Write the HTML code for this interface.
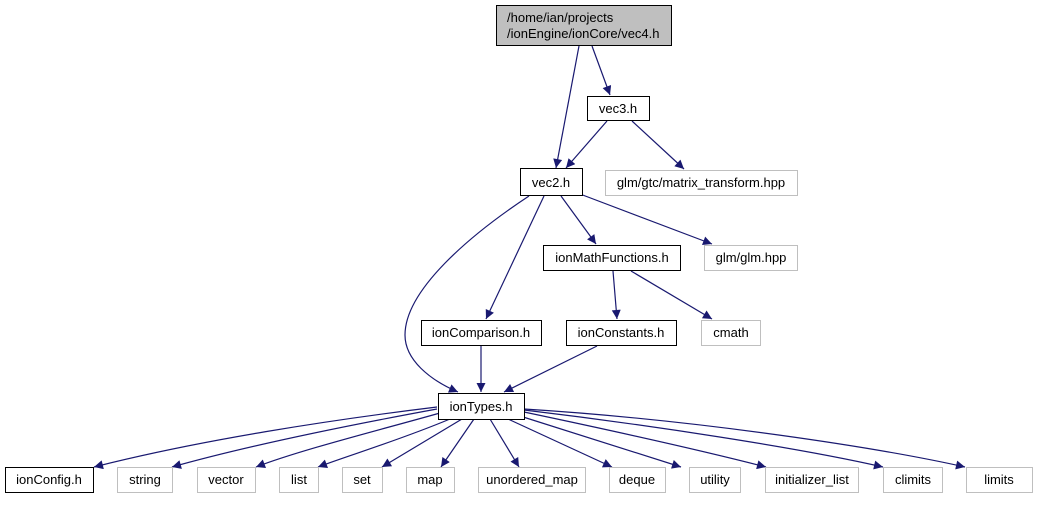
<!DOCTYPE html>
<html><head><style>
body{margin:0;background:#fff;width:1037px;height:500px;overflow:hidden}
svg text{font-family:"Liberation Sans",sans-serif;font-size:13px;fill:#000}
</style></head><body>
<svg width="1037" height="500" xmlns="http://www.w3.org/2000/svg">
<defs><marker id="a" viewBox="0 0 10 10" refX="10" refY="5" markerWidth="11" markerHeight="9" markerUnits="userSpaceOnUse" orient="auto"><path d="M0,0L10,5L0,10z" fill="#191970"/></marker></defs>
<g fill="none" stroke="#191970" stroke-width="1.2" marker-end="url(#a)">
<path d="M579,46L556,168"/>
<path d="M592,46L610,95"/>
<path d="M607,121L566,168"/>
<path d="M632,121L684,169"/>
<path d="M529,196C470,235 405,290 405,335C405,360 430,380 458,392"/>
<path d="M544,196L486,319"/>
<path d="M561,196L596,244"/>
<path d="M580,194L712,244"/>
<path d="M613,271L617,319"/>
<path d="M631,271L712,319"/>
<path d="M481,346L481,392"/>
<path d="M597,346L504,392"/>
<path d="M437,407C330,420 200,440 94,467"/>
<path d="M437,409C350,425 250,445 172,467"/>
<path d="M440,413C380,430 300,450 256,467"/>
<path d="M450,419C400,440 350,455 318,467"/>
<path d="M462,419L382,467"/>
<path d="M474,419L441,467"/>
<path d="M490,419L519,467"/>
<path d="M508,419L612,467"/>
<path d="M520,416L681,467"/>
<path d="M524,412C600,428 700,450 766,467"/>
<path d="M524,410C650,425 800,448 883,467"/>
<path d="M524,409C700,420 880,448 965,467"/>
</g>
<g stroke-width="1">
<rect x="496.5" y="5.5" width="175" height="40" fill="#bfbfbf" stroke="#000"/>
<g fill="#fff" stroke="#000">
<rect x="587.5" y="96.5" width="62" height="24"/>
<rect x="520.5" y="168.5" width="62" height="27"/>
<rect x="543.5" y="245.5" width="137" height="25"/>
<rect x="421.5" y="320.5" width="120" height="25"/>
<rect x="566.5" y="320.5" width="110" height="25"/>
<rect x="438.5" y="393.5" width="86" height="26"/>
<rect x="5.5" y="467.5" width="88" height="25"/>
</g>
<g fill="#fff" stroke="#bfbfbf">
<rect x="605.5" y="170.5" width="192" height="25"/>
<rect x="704.5" y="245.5" width="93" height="25"/>
<rect x="701.5" y="320.5" width="59" height="25"/>
<rect x="117.5" y="467.5" width="55" height="25"/>
<rect x="197.5" y="467.5" width="58" height="25"/>
<rect x="279.5" y="467.5" width="39" height="25"/>
<rect x="342.5" y="467.5" width="40" height="25"/>
<rect x="406.5" y="467.5" width="48" height="25"/>
<rect x="478.5" y="467.5" width="107" height="25"/>
<rect x="609.5" y="467.5" width="56" height="25"/>
<rect x="689.5" y="467.5" width="51" height="25"/>
<rect x="765.5" y="467.5" width="93" height="25"/>
<rect x="883.5" y="467.5" width="59" height="25"/>
<rect x="966.5" y="467.5" width="66" height="25"/>
</g>
</g>
<text x="507" y="22">/home/ian/projects</text>
<text x="507" y="38">/ionEngine/ionCore/vec4.h</text>
<g text-anchor="middle">
<text x="618" y="113">vec3.h</text>
<text x="551" y="187">vec2.h</text>
<text x="701" y="187">glm/gtc/matrix_transform.hpp</text>
<text x="612" y="262">ionMathFunctions.h</text>
<text x="751" y="262">glm/glm.hpp</text>
<text x="481" y="337">ionComparison.h</text>
<text x="621" y="337">ionConstants.h</text>
<text x="731" y="337">cmath</text>
<text x="481" y="411">ionTypes.h</text>
<text x="49" y="484">ionConfig.h</text>
<text x="145" y="484">string</text>
<text x="226" y="484">vector</text>
<text x="299" y="484">list</text>
<text x="362" y="484">set</text>
<text x="430" y="484">map</text>
<text x="532" y="484">unordered_map</text>
<text x="637" y="484">deque</text>
<text x="715" y="484">utility</text>
<text x="812" y="484">initializer_list</text>
<text x="913" y="484">climits</text>
<text x="999" y="484">limits</text>
</g>
</svg>
</body></html>
